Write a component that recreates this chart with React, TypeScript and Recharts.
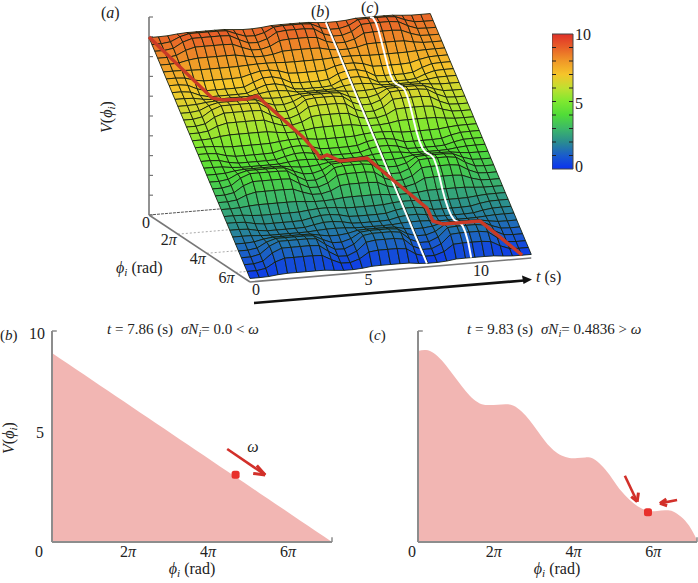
import { ComposedChart, ScatterChart, Scatter, Area, XAxis, YAxis, ReferenceLine, ReferenceDot, BarChart, Bar } from 'recharts';

// phi positions in units of pi, one per mesh row
const phiGrid = [0, 0.2, 0.4, 0.6, 0.8, 1, 1.2, 1.4, 1.6, 1.8, 2, 2.2, 2.4, 2.6, 2.8, 3, 3.2, 3.4, 3.6, 3.8, 4, 4.2, 4.4, 4.6, 4.8, 5, 5.2, 5.4, 5.6, 5.8, 6, 6.2, 6.4, 6.6, 6.8, 7];
// V(phi) at t = 7.86
const sliceB = [8.96, 8.7, 8.45, 8.19, 7.94, 7.68, 7.42, 7.17, 6.91, 6.66, 6.4, 6.14, 5.89, 5.63, 5.38, 5.12, 4.86, 4.61, 4.35, 4.1, 3.84, 3.58, 3.33, 3.07, 2.82, 2.56, 2.3, 2.05, 1.79, 1.54, 1.28, 1.02, 0.77, 0.51, 0.26, 0];
// V(phi) at t = 9.83
const sliceC = [9.05, 9.1, 8.95, 8.6, 8.13, 7.63, 7.15, 6.75, 6.53, 6.49, 6.51, 6.53, 6.46, 6.18, 5.77, 5.26, 4.75, 4.35, 4.1, 3.98, 3.98, 4.01, 3.95, 3.64, 3.2, 2.65, 2.2, 1.85, 1.6, 1.47, 1.47, 1.5, 1.45, 1.2, 0.78, 0.1];
// mesh columns in seconds and how strong the ripple is in each one
const tGrid = [0, 0.42, 0.83, 1.25, 1.67, 2.08, 2.5, 2.92, 3.33, 3.75, 4.17, 4.58, 5, 5.42, 5.83, 6.25, 6.67, 7.08, 7.5, 7.92, 8.33, 8.75, 9.17, 9.58, 10, 10.42, 10.83, 11.25, 11.67, 12.08, 12.5];
const ripple = [0, 0, 0.15, 0.7, 1, 1, 1, 1, 0.95, 0.45, 0.03, 0, 0.3, 0.9, 1, 1, 1, 0.9, 0.3, 0, 0, 0.3, 0.95, 1, 1, 1, 0.9, 0.4, 0.05, 0, 0];
// ball trajectory on the surface
const pathT = [0, 1.52, 2.0, 3.07, 3.45, 4.73, 4.96, 5.03, 5.35, 5.93, 7.13, 7.83, 8.7, 8.8, 9.22, 9.84, 10.87, 12.09];
const pathPhi = [0, 2, 2, 2, 2.1, 3.3, 3.9, 4, 4, 4, 4, 4.7, 5.7, 5.95, 6, 6, 6, 7];
const pathV = [8.99, 6.73, 6.58, 6.52, 6.69, 5.07, 4.53, 4.32, 4.45, 4.08, 4.12, 3.28, 2.26, 1.72, 1.55, 1.54, 1.54, 0.19];

const vTicks = [0, 1, 2, 3, 4, 5, 6, 7, 8, 9, 10];
const tTicks = [0, 5, 10];
const phiTicks = [2, 4, 6];
const barValues = [{ name: 'V', range: [0, 10] }];

const colorStops = ['#0a32f0', '#1a5ccc', '#2a8c90', '#3cb868', '#50dc38', '#7ee830', '#c0e030', '#f5c52a', '#f09828', '#e86028', '#e03028'];

const FONT = '"Liberation Serif", serif';
const INK = '#222';
const AXIS = '#8d8d8d';
const W = 698;
const H = 583;

const hex = (c: string) => [1, 3, 5].map((i) => parseInt(c.slice(i, i + 2), 16));
const colorAt = (v: number) => {
  const s = Math.max(0, Math.min(9.999, v));
  const i = Math.floor(s);
  const a = hex(colorStops[i]);
  const b = hex(colorStops[i + 1]);
  const f = s - i;
  return `rgb(${a.map((c, k) => Math.round(c + (b[k] - c) * f)).join(',')})`;
};

// 3d view -> flat chart coordinates
const viewX = (t: number, phi: number) => 149 + 22.5 * t + (101 * phi) / 7;
const viewY = (t: number, phi: number, v: number) => H - (215 - 19.8 * v - 1.92 * t + (67 * phi) / 7);
const at = (t: number, phi: number, v: number, extra = {}) => ({ x: viewX(t, phi), y: viewY(t, phi, v), ...extra });

const lift = (v: number) => 0.18 + 0.98 * v;
const surf = (j: number, i: number) => lift(sliceB[i] + ripple[j] * (sliceC[i] - sliceB[i]));

const cells: any[] = [];
for (let i = 0; i < phiGrid.length - 1; i++) {
  for (let j = 0; j < tGrid.length - 1; j++) {
    const corners = [
      at(tGrid[j], phiGrid[i], surf(j, i)),
      at(tGrid[j + 1], phiGrid[i], surf(j + 1, i)),
      at(tGrid[j + 1], phiGrid[i + 1], surf(j + 1, i + 1)),
      at(tGrid[j], phiGrid[i + 1], surf(j, i + 1)),
    ];
    const mean = (surf(j, i) + surf(j + 1, i) + surf(j + 1, i + 1) + surf(j, i + 1)) / 4;
    cells.push({ ...corners[0], corners, fill: colorAt(mean) });
  }
}

const lineB = phiGrid.map((p, i) => at(7.86, p, lift(sliceB[i])));
const lineC = phiGrid.map((p, i) => at(9.83, p, lift(sliceC[i])));
const redPath = pathT.map((t, i) => at(t, pathPhi[i], pathV[i]));

const panelB = phiGrid.map((phi, i) => ({ phi, v: sliceB[i] }));
const panelC = phiGrid.map((phi, i) => ({ phi, v: sliceC[i] }));

// arrows as tail, tip, barb, barb in panel data units
const arrowsB = [[[4.38, 4.41], [5.33, 3.18], [5.03, 3.25], [5.12, 3.62]]];
const arrowsC = [
  [[5.19, 3.14], [5.5, 1.91], [5.35, 2.15], [5.53, 2.34]],
  [[6.5, 1.99], [6.07, 1.83], [6.23, 2.04], [6.25, 1.72]],
];

const noMark = () => <g />;

const CellShape = (p: any) => {
  const pts = p.payload.corners.map((c: any) => `${p.cx + c.x - p.payload.x},${p.cy - (c.y - p.payload.y)}`).join(' ');
  return <polygon points={pts} fill={p.payload.fill} stroke="#15200f" strokeWidth={1} strokeOpacity={0.88} />;
};

const PiText = ({ x, y, n }: any) => (
  <text x={x} y={y} textAnchor="middle" fontSize={16} fill={INK} fontFamily={FONT}>
    {n}
    <tspan fontStyle="italic">π</tspan>
  </text>
);

// phi with its subscript, the text after it goes back on the baseline
const PhiI = ({ after }: any) => (
  <>
    <tspan fontStyle="italic">ϕ</tspan>
    <tspan dy={3} fontSize="70%" fontStyle="italic">i</tspan>
    <tspan dy={-3}>{after}</tspan>
  </>
);

const Paren = ({ x, y, c, size = 16 }: any) => (
  <text x={x} y={y} fontSize={size} fill={INK} fontFamily={FONT}>
    (<tspan fontStyle="italic">{c}</tspan>)
  </text>
);

const Surface3D = () => (
  <ScatterChart width={W} height={H} margin={{ top: 0, right: 0, bottom: 0, left: 0 }} style={{ position: 'absolute', left: 0, top: 0 }}>
    <XAxis type="number" dataKey="x" domain={[0, W]} hide />
    <YAxis type="number" dataKey="y" domain={[0, H]} hide />
    {/* floor guides, the surface covers most of them */}
    <Scatter data={[at(0, 0, 0), at(12.5, 0, 0)]} shape={noMark} line={{ stroke: '#555', strokeWidth: 1, strokeDasharray: '3 1' }} isAnimationActive={false} />
    {phiTicks.map((p) => (
      <Scatter key={p} data={[at(0, p, 0), at(12.5, p, 0)]} shape={noMark} line={{ stroke: '#aaa', strokeWidth: 1, strokeDasharray: '2 2' }} isAnimationActive={false} />
    ))}
    {/* axes */}
    <Scatter data={[at(0, 0, 0), at(0, 0, 10)]} shape={noMark} line={{ stroke: '#777', strokeWidth: 1.6 }} isAnimationActive={false} />
    <Scatter
      data={vTicks.map((v) => at(0, 0, v))}
      shape={(p: any) => <line x1={p.cx} x2={p.cx + 4} y1={p.cy} y2={p.cy} stroke="#777" strokeWidth={1.2} />}
      isAnimationActive={false}
    />
    <Scatter data={[at(0, 0, 0), at(0, 7, 0)]} shape={noMark} line={{ stroke: '#777', strokeWidth: 1.6 }} isAnimationActive={false} />
    <Scatter data={[at(0, 7, 0), at(12.5, 7, 0)]} shape={noMark} line={{ stroke: '#777', strokeWidth: 1.6 }} isAnimationActive={false} />
    <Scatter data={cells} shape={CellShape} isAnimationActive={false} />
    <Scatter data={lineB} shape={noMark} line={{ stroke: '#fff', strokeWidth: 2 }} isAnimationActive={false} />
    <Scatter data={lineC} shape={noMark} line={{ stroke: '#fff', strokeWidth: 2 }} isAnimationActive={false} />
    <Scatter data={redPath} shape={noMark} line={{ stroke: '#c93a26', strokeWidth: 3.4 }} isAnimationActive={false} />
    {/* tick labels */}
    <Scatter
      data={tTicks.map((t) => at(t, 7, 0, { label: t }))}
      shape={(p: any) => (
        <text x={p.cx + 6} y={p.cy + 13} textAnchor="middle" fontSize={16} fill={INK} fontFamily={FONT}>
          {p.payload.label}
        </text>
      )}
      isAnimationActive={false}
    />
    <Scatter
      data={phiTicks.map((n) => at(0, n, 0, { n }))}
      shape={(p: any) => <PiText x={p.cx - 9} y={p.cy + 11} n={p.payload.n} />}
      isAnimationActive={false}
    />
    <Scatter
      data={[at(0, 0, 0)]}
      shape={(p: any) => (
        <text x={p.cx - 3} y={p.cy + 13} textAnchor="middle" fontSize={16} fill={INK} fontFamily={FONT}>
          0
        </text>
      )}
      isAnimationActive={false}
    />
  </ScatterChart>
);

const ColorBar = () => (
  <BarChart
    width={50}
    height={155}
    data={barValues}
    barCategoryGap={0}
    margin={{ top: 10, right: 0, bottom: 10, left: 0 }}
    style={{ position: 'absolute', left: 552, top: 24 }}
  >
    <defs>
      <linearGradient id="cbar" x1="0" y1="1" x2="0" y2="0">
        {colorStops.map((c, i) => (
          <stop key={c} offset={`${i * 10}%`} stopColor={c} />
        ))}
      </linearGradient>
    </defs>
    <XAxis dataKey="name" hide />
    <YAxis
      orientation="right"
      width={29}
      domain={[0, 10]}
      ticks={vTicks}
      interval={0}
      axisLine={false}
      tickLine={false}
      tick={(p: any) => {
        const v = p.payload.value;
        const label = v === 0 || v === 5 || v === 10;
        const dy = v === 0 ? 3 : v === 5 ? 7 : 6;
        return (
          <g>
            {v > 0 && v < 10 && (
              <>
                <line x1={0} x2={4} y1={p.y} y2={p.y} stroke={INK} strokeWidth={1} />
                <line x1={17} x2={21} y1={p.y} y2={p.y} stroke={INK} strokeWidth={1} />
              </>
            )}
            {label && (
              <text x={23} y={p.y + dy} fontSize={16} fill={INK} fontFamily={FONT}>
                {v}
              </text>
            )}
          </g>
        );
      }}
    />
    <Bar dataKey="range" fill="url(#cbar)" stroke="#444" strokeWidth={1} isAnimationActive={false} />
  </BarChart>
);

const Panel = ({ data, left, axisW, right, yTicks, dot, arrows, tickShift, curve }: any) => (
  <ComposedChart
    width={349}
    height={263}
    data={data}
    margin={{ top: 11, right, bottom: 0, left: 0 }}
    style={{ position: 'absolute', left, top: 320 }}
  >
    <XAxis
      type="number"
      dataKey="phi"
      domain={[0, 7]}
      ticks={phiTicks}
      interval={0}
      height={41}
      tickLine={false}
      axisLine={false}
      tick={(p: any) => <PiText x={p.x - 4} y={237} n={p.payload.value} />}
    />
    <YAxis
      type="number"
      domain={[0, 10]}
      ticks={yTicks}
      interval={0}
      width={axisW}
      tickLine={false}
      axisLine={false}
      tick={(p: any) => {
        const v = p.payload.value;
        return (
          <text x={axisW + tickShift[v][0]} y={p.y + tickShift[v][1]} textAnchor="middle" fontSize={16} fill={INK} fontFamily={FONT}>
            {v}
          </text>
        );
      }}
    />
    <Area type={curve} dataKey="v" stroke="none" fill="#f2b6b3" fillOpacity={1} isAnimationActive={false} dot={false} />
    {/* axis lines go over the fill */}
    <ReferenceLine segment={[{ x: 0, y: 0 }, { x: 0, y: 10 }]} stroke={AXIS} strokeWidth={2} ifOverflow="visible" />
    <ReferenceLine segment={[{ x: 0, y: 0 }, { x: 7, y: 0 }]} stroke={AXIS} strokeWidth={2} ifOverflow="visible" />
    <ReferenceLine segment={[{ x: 0, y: 10 }, { x: 0.12, y: 10 }]} stroke={AXIS} strokeWidth={1.5} ifOverflow="visible" />
    <ReferenceLine segment={[{ x: 7, y: 0 }, { x: 7, y: 0.22 }]} stroke={AXIS} strokeWidth={1.5} ifOverflow="visible" />
    {arrows.map((a: number[][], k: number) =>
      [[a[0], a[1]], [a[2], a[1]], [a[3], a[1]]].map((s, m) => (
        <ReferenceLine
          key={`${k}-${m}`}
          segment={[{ x: s[0][0], y: s[0][1] }, { x: s[1][0], y: s[1][1] }]}
          stroke="#d2302a"
          strokeWidth={m === 0 ? 2.6 : 3}
          ifOverflow="visible"
        />
      )),
    )}
    <ReferenceDot
      x={dot[0]}
      y={dot[1]}
      r={4}
      ifOverflow="visible"
      shape={(p: any) => <rect x={p.cx - 4} y={p.cy - 4} width={8} height={8} rx={2.5} fill="#e8302c" />}
    />
  </ComposedChart>
);

// math labels and the big t arrow sit above the charts
const Notes = () => (
  <svg width={W} height={H} style={{ position: 'absolute', left: 0, top: 0, pointerEvents: 'none' }} fontFamily={FONT} fill={INK}>
    <Paren x={101} y={18} c="a" />
    <Paren x={311} y={17} c="b" />
    <Paren x={361} y={13} c="c" />
    <text transform="translate(112,117) rotate(-90)" textAnchor="middle" fontSize={16}>
      <tspan fontStyle="italic">V</tspan>(<PhiI after=")" />
    </text>
    <text x={116} y={273} fontSize={16}>
      <PhiI after=" (rad)" />
    </text>
    <text x={536} y={282} fontSize={16}>
      <tspan fontStyle="italic">t</tspan> (s)
    </text>
    <line x1={254} y1={303} x2={524} y2={280.5} stroke="#111" strokeWidth={2.6} />
    <polygon points="532,279.5 522,275.5 523.5,284" fill="#111" />

    <Paren x={0} y={340} c="b" size={15} />
    <Paren x={369} y={340} c="c" size={15} />
    <text x={107} y={334} fontSize={15}>
      <tspan fontStyle="italic">t</tspan> = 7.86 (s)<tspan dx={8} fontStyle="italic">σN</tspan>
      <tspan dy={3} fontSize="70%" fontStyle="italic">i</tspan>
      <tspan dy={-3}>= 0.0 &lt; </tspan>
      <tspan fontStyle="italic">ω</tspan>
    </text>
    <text x={467} y={334} fontSize={15}>
      <tspan fontStyle="italic">t</tspan> = 9.83 (s)<tspan dx={8} fontStyle="italic">σN</tspan>
      <tspan dy={3} fontSize="70%" fontStyle="italic">i</tspan>
      <tspan dy={-3}>= 0.4836 &gt; </tspan>
      <tspan fontStyle="italic">ω</tspan>
    </text>
    <text x={253} y={452} textAnchor="middle" fontSize={16} fontStyle="italic">
      ω
    </text>
    <text transform="translate(14,438) rotate(-90)" textAnchor="middle" fontSize={16}>
      <tspan fontStyle="italic">V</tspan>(<PhiI after=")" />
    </text>
    <text x={192} y={574} textAnchor="middle" fontSize={16}>
      <PhiI after=" (rad)" />
    </text>
    <text x={557} y={574} textAnchor="middle" fontSize={16}>
      <PhiI after=" (rad)" />
    </text>
  </svg>
);

export default function App() {
  return (
    <div style={{ position: 'absolute', left: 0, top: 0, width: W, height: H, background: '#fff', fontFamily: FONT, overflow: 'hidden' }}>
      <Surface3D />
      <ColorBar />
      <Panel
        data={panelB}
        left={0}
        axisW={52}
        right={17}
        yTicks={[0, 5, 10]}
        dot={[4.59, 3.19]}
        arrows={arrowsB}
        tickShift={{ 0: [-13, 15], 5: [-12, 1], 10: [-15, 8] }}
        curve="linear"
      />
      <Panel
        data={panelC}
        left={349}
        axisW={69}
        right={1}
        yTicks={[0]}
        dot={[5.77, 1.41]}
        arrows={arrowsC}
        tickShift={{ 0: [-6, 15] }}
        curve="natural"
      />
      <Notes />
    </div>
  );
}
